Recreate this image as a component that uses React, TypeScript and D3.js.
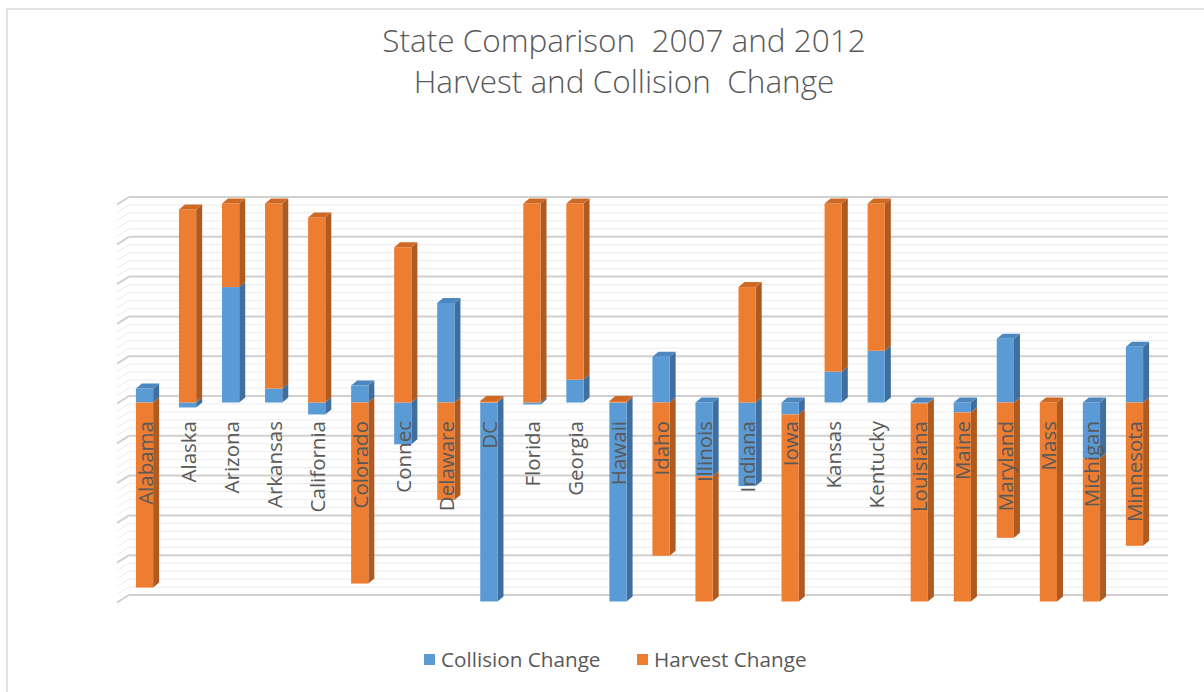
import React from "react";
import * as d3 from "d3";

const states = ["Alabama","Alaska","Arizona","Arkansas","California","Colorado","Connec","Delaware","DC","Florida","Georgia","Hawaii","Idaho","Illinois","Indiana","Iowa","Kansas","Kentucky","Louisiana","Maine","Maryland","Mass","Michigan","Minnesota"];
const collisionChange = [7, -2.5, 58, 7, -6, 8.5, -21, 50, -100, -1, 11.5, -100, 23, -37, -42, -6, 15.5, 26, -0.5, -5, 32, 0, -28, 28];
const harvestChange = [-93, 97, 42, 93, 93, -91, 78, -49, 0.8, 100, 88.5, 0.8, -77, -63, 58, -94, 84.5, 74, -99.5, -95, -68, -100, -72, -72];
const seriesNames = ["Collision Change", "Harvest Change"];
const titleLines = ["State Comparison  2007 and 2012", "Harvest and Collision  Change"];
const yDomain = [-100, 100];
const majorStep = 20;
const minorStep = 4;

const COLORS = [
  { front: "#5B9BD5", side: "#3E6FA0", top: "#4C87C0" },
  { front: "#ED7D31", side: "#AE5A21", top: "#CF6A25" },
];
const TEXT = "#595959";
const FONT = "'Open Sans', 'Noto Sans', sans-serif";

export default function App() {
  const W = 1204, H = 692;
  const x = d3.scaleBand<string>().domain(states).range([117, 1150]).paddingInner(0.6).paddingOuter(0.3);
  const y = d3.scaleLinear().domain(yDomain).range([601.5, 203.5]);
  const dx = 6, dy = 5; // bar depth
  const wx = 12, wy = 6.5; // wall depth

  const ticks = d3.range(yDomain[0], yDomain[1] + 0.001, minorStep);
  const backLeft = 117 + wx, backRight = 1168;

  const bars = states.map((s, i) => {
    const vals = [collisionChange[i], harvestChange[i]];
    let pos = 0, neg = 0;
    const segs: { k: number; y0: number; y1: number }[] = [];
    vals.forEach((v, k) => {
      if (v > 0) { segs.push({ k, y0: pos, y1: pos + v }); pos += v; }
      else if (v < 0) { segs.push({ k, y0: neg + v, y1: neg }); neg += v; }
    });
    const clamp = (v: number) => Math.max(yDomain[0], Math.min(yDomain[1], v));
    segs.forEach(sg => { sg.y0 = clamp(sg.y0); sg.y1 = clamp(sg.y1); });
    let topSeg = segs.reduce((a, b) => (b.y1 > a.y1 ? b : a), segs[0]);
    const posSegs = segs.filter(sg => sg.y1 > 0);
    if (posSegs.length) topSeg = posSegs.reduce((a, b) => (b.y1 > a.y1 ? b : a));
    else topSeg = segs.find(sg => sg.y1 === 0) || topSeg;
    return { s, segs, topSeg };
  });

  const bw = x.bandwidth();

  return (
    <svg width={W} height={H} style={{ position: "fixed", left: 0, top: 0, background: "#fff" }} fontFamily={FONT}>
      <rect x={7} y={9} width={W + 40} height={H + 40} fill="#fff" stroke="#D9D9D9" strokeWidth={1.5} />
      {ticks.map((t, i) => {
        const major = Math.abs(t % majorStep) < 0.001;
        const yy = y(t);
        const c = major ? "#D0D0D0" : "#EBEBEB";
        const sw = major ? 2 : 1;
        return (
          <g key={i}>
            <line x1={117} y1={yy + 1} x2={backLeft} y2={yy - wy} stroke={c} strokeWidth={sw} />
            <line x1={backLeft} y1={yy - wy} x2={backRight} y2={yy - wy} stroke={c} strokeWidth={sw} />
          </g>
        );
      })}
      {bars.map(b => {
        const x0 = (x(b.s) as number) + 6;
        const x1 = x0 + bw;
        return (
          <g key={b.s}>
            {b.segs.map((sg, j) => {
              const yt = y(sg.y1), yb = y(sg.y0);
              const c = COLORS[sg.k];
              return (
                <g key={j}>
                  <polygon points={`${x1},${yt} ${x1 + dx},${yt - dy} ${x1 + dx},${yb - dy} ${x1},${yb}`} fill={c.side} />
                  <rect x={x0} y={yt} width={bw} height={Math.max(0, yb - yt)} fill={c.front} />
                </g>
              );
            })}
            {b.topSeg && (() => {
              const yt = y(b.topSeg.y1);
              const c = COLORS[b.topSeg.k];
              return <polygon points={`${x0},${yt} ${x0 + dx},${yt - dy} ${x1 + dx},${yt - dy} ${x1},${yt}`} fill={c.top} />;
            })()}
          </g>
        );
      })}
      {states.map(s => {
        const cx = (x(s) as number) + 6 + bw / 2;
        return (
          <text key={s} transform={`translate(${cx},${421}) rotate(-90)`} textAnchor="end" dominantBaseline="central"
            fontSize={20.5} fill={TEXT}>{s}</text>
        );
      })}
      {titleLines.map((t, i) => (
        <text key={i} x={624} y={52 + i * 41} textAnchor="middle" fontSize={31.5} fontWeight={300} fill={TEXT} style={{ whiteSpace: "pre" }}>{t}</text>
      ))}
      {seriesNames.map((n, i) => {
        const lx = [424, 637][i];
        return (
          <g key={n}>
            <rect x={lx} y={654} width={11} height={11} fill={COLORS[i].front} />
            <text x={lx + 17} y={667} fontSize={20.7} fill={TEXT}>{n}</text>
          </g>
        );
      })}
    </svg>
  );
}
